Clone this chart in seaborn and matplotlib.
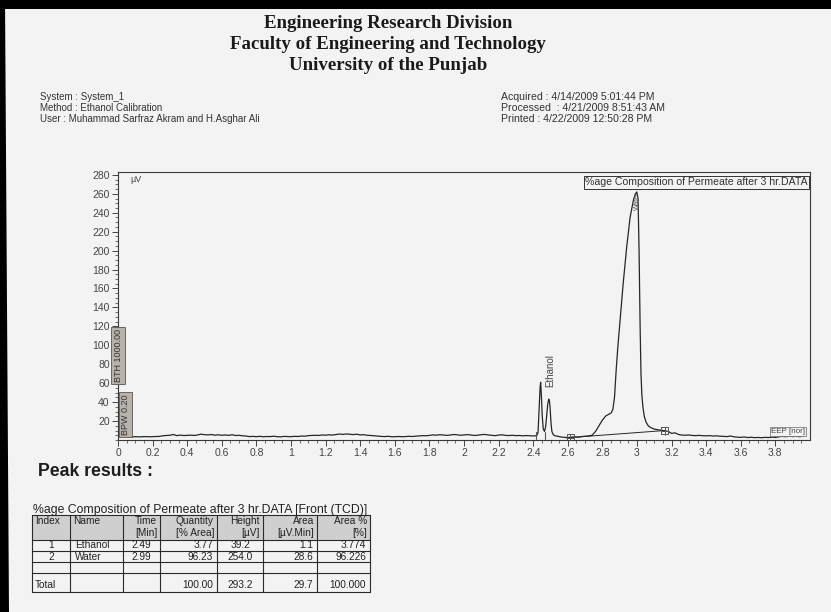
import numpy as np
import pandas as pd
import matplotlib
matplotlib.use("Agg")
import matplotlib.pyplot as plt
from matplotlib.patches import Rectangle, Polygon
import seaborn as sns

# ---------------- chromatogram data (Front TCD detector) ----------------
# baseline segments sampled every 0.02 min
pre_t0, pre_dt = 0.06, 0.02
pre_uv = [3.4, 3.2, 3.5, 3.3, 3.4, 3.6, 3.4, 3.5, 3.6, 3.8,
          4.5, 4.8, 5.0, 5.8, 4.6, 5.2, 4.7, 4.9, 5.1, 4.8, 5.3, 6.2, 5.6,
          5.4, 5.8, 5.1, 5.5, 5.0, 5.3, 4.9, 5.6, 4.7, 5.0, 4.4, 4.2,
          3.6, 3.8, 3.5, 3.9, 3.4, 3.7, 3.6, 4.0, 3.5, 3.3, 3.8, 3.6, 3.5,
          3.9, 3.7, 4.2, 4.0, 4.6, 4.8,
          5.0, 4.8, 5.3, 5.1, 5.5, 5.2, 5.8, 6.3, 5.9, 6.4, 6.0, 5.7, 6.1,
          5.4, 5.6, 5.0, 4.8, 4.5, 4.1,
          3.8, 3.6, 3.9, 3.5, 3.4, 3.7, 3.5, 3.6, 3.9, 3.7, 4.0, 4.3, 4.6, 4.5,
          4.8, 5.4, 5.1, 5.6, 5.3, 4.9, 5.2, 5.8, 5.5, 5.0, 5.4, 5.7, 5.2,
          4.8, 5.1, 5.6, 5.9, 5.3, 5.0, 4.6, 5.2, 5.5, 4.9, 4.7, 5.0, 4.6,
          4.8, 4.4, 4.7, 4.5, 4.3]

# peak region (ethanol doublet + water)
peak_t = [2.420, 2.428, 2.435, 2.440, 2.443, 2.447, 2.452, 2.458, 2.465,
          2.472, 2.478, 2.484, 2.490, 2.494, 2.498, 2.503, 2.508, 2.515,
          2.525, 2.540, 2.560, 2.580, 2.600, 2.620, 2.640, 2.660, 2.680,
          2.700, 2.720, 2.740, 2.760, 2.780, 2.800, 2.820, 2.835, 2.850,
          2.860, 2.870, 2.880, 2.890, 2.900, 2.920, 2.940, 2.960, 2.980,
          2.992, 2.999, 3.006, 3.012, 3.018, 3.023, 3.028, 3.034, 3.042,
          3.052, 3.065, 3.080, 3.100, 3.120, 3.140, 3.160, 3.180, 3.200,
          3.220, 3.240]
peak_uv = [4.5, 8.0, 35.0, 56.0, 61.0, 48.0, 26.0, 12.0, 9.0,
           14.0, 26.0, 38.0, 43.2, 41.0, 33.0, 18.0, 9.0, 6.0,
           4.5, 4.0, 3.2, 2.8, 2.6, 2.9, 3.3, 3.0, 3.6,
           4.0, 4.2, 5.0, 9.0, 15.0, 21.0, 25.5, 27.0, 28.5,
           32.0, 45.0, 75.0, 100.0, 122.0, 165.0, 203.0, 235.0, 254.0,
           260.0, 262.0, 255.0, 200.0, 120.0, 70.0, 48.0, 35.0, 25.0,
           19.0, 15.0, 13.0, 11.5, 10.8, 10.2, 9.8, 9.0, 7.0,
           7.5, 5.8]

post_t0, post_dt = 3.26, 0.02
post_uv = [5.2, 5.0, 5.3, 4.8, 4.6, 4.9, 4.5, 4.4, 4.6, 4.2, 4.4, 4.0, 3.8,
           3.6, 4.2, 3.4, 3.0, 2.8, 3.2, 2.6, 2.9, 2.5, 2.7, 2.4, 2.8, 2.6,
           3.0, 2.7,
           3.4, 3.8, 3.5, 4.0, 3.6, 3.9, 3.5, 4.2]

# integration events
drop_t = [2.615, 3.160]
drop_uv = [2.6, 10.0]
eth_marks_t = [2.415, 2.468]

# peak results table
table_caption = "%age Composition of Permeate after 3 hr.DATA [Front (TCD)]"
col_head1 = ["Index", "Name", "Time", "Quantity", "Height", "Area", "Area %"]
col_head2 = ["", "", "[Min]", "[% Area]", "[\u00b5V]", "[\u00b5V.Min]", "[%]"]
peak_index = ["1", "2"]
peak_name = ["Ethanol", "Water"]
peak_time = ["2.49", "2.99"]
peak_qty = ["3.77", "96.23"]
peak_height = ["39.2", "254.0"]
peak_area = ["1.1", "28.6"]
peak_area_pct = ["3.774", "96.226"]
total_row = ["Total", "", "", "100.00", "293.2", "29.7", "100.000"]

x_ticks = [0, 0.2, 0.4, 0.6, 0.8, 1, 1.2, 1.4, 1.6, 1.8, 2, 2.2, 2.4, 2.6,
           2.8, 3, 3.2, 3.4, 3.6, 3.8]
y_ticks = [20, 40, 60, 80, 100, 120, 140, 160, 180, 200, 220, 240, 260, 280]

# ---------------- assemble the trace ----------------
pre_times = pre_t0 + pre_dt * np.arange(len(pre_uv))
post_times = post_t0 + post_dt * np.arange(len(post_uv))
trace = pd.DataFrame({
    "time": np.concatenate([pre_times, peak_t, post_times]),
    "uV": np.concatenate([pre_uv, peak_uv, post_uv]),
})

sns.set_theme(style="ticks")
plt.rcParams["font.family"] = ["Liberation Sans", "DejaVu Sans"]

W, H = 831, 612
BG = "#f3f3f3"
INK = "#262626"
fig = plt.figure(figsize=(W / 100, H / 100), dpi=100, facecolor=BG)


def fx(px):
    return px / W


def fy(py):
    return 1 - py / H


# scanner edge
fig.patches.append(Rectangle((0, fy(9)), 1, 9 / H, transform=fig.transFigure,
                             facecolor="black", edgecolor="none"))
fig.patches.append(Polygon([(0, 1), (fx(5), 1), (fx(9), 0), (0, 0)],
                           closed=True, transform=fig.transFigure,
                           facecolor="black", edgecolor="none"))

# ---------------- header ----------------
serif = ["Liberation Serif", "DejaVu Serif"]
for i, line in enumerate(["Engineering Research Division",
                          "Faculty of Engineering and Technology",
                          "University of the Punjab"]):
    fig.text(fx(388), fy(23 + 21.5 * i), line, ha="center", va="center",
             fontsize=13.6, fontweight="bold", family=serif, color="#1a1a1a")

left_info = ["System : System_1", "Method : Ethanol Calibration",
             "User : Muhammad Sarfraz Akram and H.Asghar Ali"]
right_info = ["Acquired : 4/14/2009 5:01:44 PM",
              "Processed  : 4/21/2009 8:51:43 AM",
              "Printed : 4/22/2009 12:50:28 PM"]
for i, (a, b) in enumerate(zip(left_info, right_info)):
    fig.text(fx(40), fy(97 + 11 * i), a, ha="left", va="center",
             fontsize=7.0, color="#333333")
    fig.text(fx(501), fy(97 + 11 * i), b, ha="left", va="center",
             fontsize=7.6, color="#333333")

# ---------------- chromatogram ----------------
ax = fig.add_axes([fx(118), fy(440), fx(810) - fx(118), fy(172) - fy(440)])
ax.set_facecolor(BG)
sns.lineplot(data=trace, x="time", y="uV", ax=ax, color=INK, linewidth=0.9,
             estimator=None, sort=False)
ax.plot(drop_t, drop_uv, color=INK, linewidth=0.7)
ax.scatter(drop_t, drop_uv, marker="s", s=22, facecolor="none",
           edgecolor="#555555", linewidths=0.7, zorder=4)
ax.scatter(drop_t, drop_uv, marker="+", s=40, color="#555555",
           linewidths=0.7, zorder=4)
for t in eth_marks_t:
    ax.plot([t, t], [1.0, 8.0], color="#555555", linewidth=0.8)

ax.set_xlim(0, 4.0)
ax.set_ylim(0, 283)
ax.set_xlabel("")
ax.set_ylabel("")
ax.set_xticks(x_ticks)
ax.set_xticklabels([f"{v:g}" for v in x_ticks])
ax.set_yticks(y_ticks)
ax.set_yticklabels([str(v) for v in y_ticks])
ax.set_xticks(np.arange(0, 4.0, 0.05), minor=True)
ax.set_yticks(np.arange(0, 283, 5), minor=True)
ax.tick_params(axis="both", which="major", length=4, width=0.7,
               color="#444444", labelsize=7.5, labelcolor="#444444", pad=2)
ax.tick_params(axis="both", which="minor", length=2, width=0.6,
               color="#555555")
for s in ax.spines.values():
    s.set_color("#3a3a3a")
    s.set_linewidth(0.8)

ax.text(0.07, 275, "\u00b5V", fontsize=6.5, color="#444444", ha="left",
        va="center")

# peak labels
ax.text(2.497, 56, "Ethanol", rotation=90, fontsize=7, color="#444444",
        ha="center", va="bottom")
ax.text(3.004, 262, "Water", rotation=90, fontsize=5, color="#555555",
        ha="center", va="top")

# data file label
ax.text(3.985, 272, "%age Composition of Permeate after 3 hr.DATA",
        fontsize=7.6, color="#333333", ha="right", va="center",
        bbox=dict(boxstyle="square,pad=0.12", facecolor=BG,
                  edgecolor="#333333", linewidth=0.7))

# method event markers on the y axis
ax.text(-0.0, 89, "BTH 1000.00", rotation=90, fontsize=6.5, color="#333333",
        ha="center", va="center", clip_on=False,
        bbox=dict(boxstyle="square,pad=0.25", facecolor="#b8b2aa",
                  edgecolor="#555555", linewidth=0.6))
ax.text(0.044, 27, "BPW 0.20", rotation=90, fontsize=6.5, color="#333333",
        ha="center", va="center", clip_on=False,
        bbox=dict(boxstyle="square,pad=0.25", facecolor="#b8b2aa",
                  edgecolor="#555555", linewidth=0.6))
ax.text(3.97, 5, "EEP [nor]", fontsize=5.8, color="#444444", ha="right",
        va="bottom",
        bbox=dict(boxstyle="square,pad=0.1", facecolor=BG,
                  edgecolor="#666666", linewidth=0.5))

# ---------------- peak results ----------------
fig.text(fx(38), fy(471), "Peak results :", fontsize=12.7, fontweight="bold",
         color="#1e1e1e", ha="left", va="center")
fig.text(fx(33), fy(510), table_caption, fontsize=8.8, color="#222222",
         ha="left", va="center")

col_x = [32, 70, 123, 160, 217, 263, 317, 370]
row_y = [515, 540, 551, 562, 573, 592]
fig.patches.append(Rectangle((fx(col_x[0]), fy(row_y[1])),
                             fx(col_x[-1]) - fx(col_x[0]),
                             fy(row_y[0]) - fy(row_y[1]),
                             transform=fig.transFigure, facecolor="#cfcfcf",
                             edgecolor="none"))
for x in col_x:
    fig.add_artist(plt.Line2D([fx(x), fx(x)], [fy(row_y[0]), fy(row_y[-1])],
                              transform=fig.transFigure, color="#2a2a2a",
                              linewidth=0.8))
for y in row_y:
    fig.add_artist(plt.Line2D([fx(col_x[0]), fx(col_x[-1])], [fy(y), fy(y)],
                              transform=fig.transFigure, color="#2a2a2a",
                              linewidth=0.8))

tfs = 7.3
# header
for j, (h1, h2) in enumerate(zip(col_head1, col_head2)):
    if j < 2:
        fig.text(fx(col_x[j] + 3), fy(521), h1, fontsize=tfs, ha="left",
                 va="center", color="#222222")
    else:
        fig.text(fx(col_x[j + 1] - 3), fy(521), h1, fontsize=tfs, ha="right",
                 va="center", color="#222222")
        fig.text(fx(col_x[j + 1] - 3), fy(533), h2, fontsize=tfs, ha="right",
                 va="center", color="#222222")

rows = list(zip(peak_index, peak_name, peak_time, peak_qty, peak_height,
                peak_area, peak_area_pct))
aligns = ["center", "left", "center", "right", "center", "right", "right"]


def cell_text(j, y, s):
    a = aligns[j]
    if a == "left":
        x = col_x[j] + 5
    elif a == "right":
        x = col_x[j + 1] - 4
    else:
        x = (col_x[j] + col_x[j + 1]) / 2
    fig.text(fx(x), fy(y), s, fontsize=tfs, ha=a, va="center",
             color="#222222")


for i, r in enumerate(rows):
    ymid = (row_y[i + 1] + row_y[i + 2]) / 2
    for j, s in enumerate(r):
        cell_text(j, ymid, s)

ytot = row_y[-1] - 7
fig.text(fx(col_x[0] + 3), fy(ytot), total_row[0], fontsize=tfs, ha="left",
         va="center", color="#222222")
for j in range(3, 7):
    cell_text(j, ytot, total_row[j])

fig.savefig("out.png", dpi=100, facecolor=BG)
